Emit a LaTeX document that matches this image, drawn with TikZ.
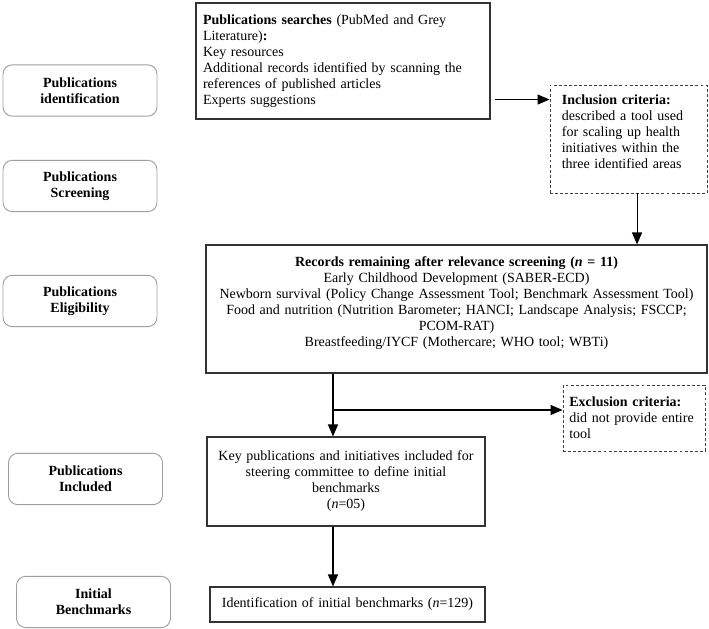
\documentclass[tikz,border=0pt]{standalone}
\usepackage{fontspec}
\setmainfont{Liberation Serif}
\usetikzlibrary{arrows.meta,positioning,calc}

\begin{document}
\begin{tikzpicture}[x=0.75pt, y=-0.75pt, font=\fontsize{10.5}{12}\selectfont,
  stage/.style={rectangle, draw=gray!75, line width=0.7pt, rounded corners=7pt, minimum width=115.5pt, minimum height=38.5pt, align=center, font=\fontsize{10.5}{12}\selectfont\bfseries},
  box/.style={rectangle, draw=black!80, line width=0.8pt, inner sep=0pt},
  crit/.style={rectangle, draw=black!75, dash pattern=on 2.2pt off 1.6pt, line width=0.7pt, inner sep=0pt},
  arr/.style={-{Triangle[length=9pt,width=7.5pt]}, line width=0.8pt}]
\useasboundingbox (0,0) rectangle (709,628);

\node[stage] (ident) at (80,90.5) {Publications\\identification};
\node[stage] (screen) at (80,186) {Publications\\Screening};
\node[stage] (elig) at (80,301) {Publications\\Eligibility};
\node[stage] (incd) at (85.5,479) {Publications\\Included};
\node[stage] (bench) at (93.5,602) {Initial\\Benchmarks};

\node[box, minimum width=220.5pt, minimum height=87pt, text width=210pt, align=left] (main) at (343,61) {\textbf{Publications searches} (PubMed and Grey\\Literature)\textbf{:}\\Key resources\\Additional records identified by scanning the\\references of published articles\\Experts suggestions};
\node[crit, minimum width=117.75pt, minimum height=81pt, text width=100pt, align=left] (incl) at (628.5,139) {\textbf{Inclusion criteria:}\\described a tool used\\for scaling up health\\initiatives within the\\three identified areas\par\vspace{10.5pt}\hrule height 0pt};
\node[box, minimum width=375.75pt, minimum height=96pt, text width=365pt, align=center] (rec) at (456.5,309) {\textbf{Records remaining after relevance screening (\textit{n} = 11)}\\Early Childhood Development (SABER-ECD)\\Newborn survival (Policy Change Assessment Tool; Benchmark Assessment Tool)\\Food and nutrition (Nutrition Barometer; HANCI; Landscape Analysis; FSCCP;\\PCOM-RAT)\\Breastfeeding/IYCF (Mothercare; WHO tool; WBTi)\par\vspace{9pt}\hrule height 0pt};
\node[crit, minimum width=106.5pt, minimum height=49.5pt, text width=97pt, align=left] (excl) at (634,418) {\textbf{Exclusion criteria:}\\did not provide entire\\tool};
\node[box, minimum width=208.5pt, minimum height=66.75pt, text width=200pt, align=center] (key) at (346,481.5) {Key publications and initiatives included for\\steering committee to define initial\\benchmarks\\(\textit{n}=05)};
\node[box, minimum width=206.25pt, minimum height=26.25pt, text width=200pt, align=center] (final) at (347.5,604.5) {Identification of initial benchmarks (\textit{n}=129)};

\coordinate (incout) at ([shift={(4,-20)}]main.south east);
\coordinate (incdown) at ([xshift=6.4pt]incl.south);
\coordinate (split) at ([xshift=-9.75pt]key.north);
\coordinate (excin) at ([yshift=6pt]excl.west);

\draw[arr] (incout) -- (incout -| incl.west);
\draw[arr] (incdown) -- (incdown |- rec.north);
\draw[arr] (split |- rec.south) -- (split);
\draw[arr] (split |- excin) -- (excin);
\draw[arr] (split |- key.south) -- (split |- final.north);
\end{tikzpicture}
\end{document}
